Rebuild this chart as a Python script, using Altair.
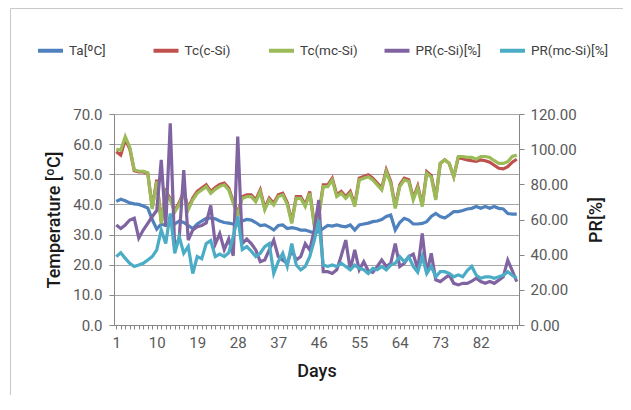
import altair as alt
import pandas as pd

days = list(range(1, 91))

ta = [41.0, 41.7, 41.2, 40.5, 40.2, 40.0, 39.5, 38.8, 35.0, 31.8,
      33.5, 33.0, 34.0, 33.5, 34.5, 34.0, 33.0, 32.0, 33.5, 34.5,
      35.4, 35.5, 35.2, 34.5, 34.0, 33.8, 33.5, 33.2, 34.5, 35.0,
      34.8, 34.0, 33.0, 33.2, 32.5, 31.5, 33.0, 33.2, 32.0, 32.3,
      32.0, 31.5, 31.5, 31.0, 30.5, 31.0, 32.0, 33.0, 32.8, 33.2,
      32.8, 32.6, 33.2, 31.5, 33.2, 33.5, 33.8, 34.3, 34.5, 35.0,
      36.0, 36.5, 31.5, 34.0, 35.4, 34.8, 33.5, 33.5, 33.7, 34.3,
      36.0, 37.0, 36.0, 35.5, 36.5, 37.6, 37.6, 38.0, 38.5, 38.7,
      39.3, 38.7, 39.3, 38.7, 39.3, 38.7, 38.5, 37.0, 36.8, 36.8]

tc_csi = [57.5, 56.4, 61.5, 58.5, 51.2, 50.8, 50.8, 50.3, 39.0, 48.2,
          34.2, 44.3, 42.0, 38.0, 40.6, 44.3, 38.8, 42.1, 44.3, 45.4,
          46.5, 44.3, 45.6, 46.6, 47.1, 45.4, 41.0, 37.1, 42.6, 43.2,
          43.2, 41.5, 44.8, 38.8, 42.1, 40.4, 43.2, 43.7, 40.6, 34.3,
          42.6, 42.6, 39.9, 44.3, 33.6, 36.6, 46.5, 46.5, 48.7, 43.2,
          44.3, 42.6, 44.3, 39.9, 48.7, 49.3, 49.8, 48.7, 47.1, 45.4,
          51.5, 47.6, 39.3, 46.5, 48.7, 48.2, 42.1, 46.1, 39.9, 50.9,
          49.6, 42.1, 53.6, 54.8, 53.6, 49.2, 55.5, 55.2, 54.8, 54.5,
          54.3, 54.8, 54.5, 54.0, 53.0, 52.0, 51.8, 52.5, 54.0, 55.0]

tc_mcsi = [58.3, 58.0, 62.5, 59.0, 51.5, 51.0, 51.0, 50.5, 38.5, 47.6,
           33.7, 43.7, 41.5, 37.5, 40.0, 43.7, 38.2, 41.5, 43.7, 44.8,
           45.9, 43.7, 45.0, 46.0, 46.5, 44.8, 40.4, 36.5, 42.0, 42.6,
           42.6, 40.9, 44.2, 38.2, 41.5, 39.8, 42.6, 43.1, 40.0, 33.7,
           42.0, 42.0, 39.3, 43.7, 33.0, 36.0, 45.9, 45.9, 48.1, 42.6,
           43.7, 42.0, 43.7, 39.3, 48.1, 48.7, 49.2, 48.1, 46.5, 44.8,
           50.9, 47.0, 38.7, 45.9, 48.1, 47.6, 41.5, 45.5, 39.3, 50.3,
           49.0, 41.5, 53.6, 54.8, 53.6, 49.2, 55.9, 55.9, 55.6, 55.6,
           55.0, 55.9, 55.9, 55.6, 54.5, 53.6, 53.6, 54.2, 55.9, 56.4]

pr_csi = [56.9, 54.9, 56.9, 59.7, 60.7, 49.4, 54.0, 57.8, 61.7, 65.1,
          93.9, 55.9, 114.7, 42.7, 49.7, 88.1, 48.3, 54.0, 55.9, 56.6,
          58.0, 68.0, 46.0, 52.0, 42.9, 49.0, 39.4, 107.1, 46.3, 48.9,
          46.3, 42.7, 36.0, 37.0, 42.7, 48.3, 38.9, 36.9, 35.1, 42.7,
          37.0, 38.9, 46.3, 42.7, 54.0, 71.1, 30.3, 30.3, 29.3, 31.4,
          39.4, 48.3, 31.4, 42.7, 31.4, 36.0, 30.9, 30.0, 33.3, 37.0,
          33.3, 35.1, 46.3, 33.3, 35.1, 38.9, 40.3, 31.7, 52.1, 29.3,
          40.8, 25.7, 24.7, 26.6, 28.5, 23.7, 22.8, 23.7, 23.7, 24.9,
          26.6, 24.7, 23.7, 24.7, 23.7, 25.5, 27.4, 36.9, 30.9, 24.7]

pr_mcsi = [38.9, 41.1, 37.9, 35.1, 33.3, 34.1, 35.1, 37.0, 38.9, 42.7,
           54.0, 46.3, 63.4, 40.8, 50.2, 40.8, 44.6, 29.3, 38.9, 37.7,
           46.3, 48.0, 38.9, 40.3, 38.9, 41.1, 50.2, 61.7, 42.9, 44.6,
           42.0, 38.9, 40.8, 44.6, 46.3, 29.3, 36.0, 40.8, 33.3, 46.3,
           34.1, 31.4, 33.3, 38.9, 48.0, 59.7, 34.1, 33.3, 34.1, 33.3,
           35.1, 33.3, 31.4, 34.1, 32.2, 31.4, 29.3, 32.2, 31.4, 33.3,
           31.4, 34.1, 35.1, 38.9, 36.0, 38.9, 33.3, 30.0, 38.9, 29.3,
           33.3, 27.4, 30.3, 30.3, 29.3, 27.4, 28.5, 27.4, 30.9, 33.3,
           28.3, 26.6, 27.4, 27.4, 26.6, 27.4, 28.3, 30.3, 28.3, 26.6]

series_names = ["Ta[ºC]", "Tc(c-Si)", "Tc(mc-Si)", "PR(c-Si)[%]", "PR(mc-Si)[%]"]
series_colors = ["#4F81BD", "#C0504D", "#9BBB59", "#8064A2", "#4BACC6"]
temp_ticks = [0, 10, 20, 30, 40, 50, 60, 70]
pr_ticks = [0, 20, 40, 60, 80, 100, 120]
day_label_every = 9

color_scale = alt.Scale(domain=series_names, range=series_colors)
legend = alt.Legend(orient="none", legendX=-78, legendY=-78, direction="horizontal",
                    columns=5, gridAlign="all", columnPadding=-1.5, title=None,
                    symbolType="stroke", symbolSize=625, symbolStrokeWidth=4,
                    labelFontSize=13.5, labelFont="Roboto", labelColor="#404040",
                    labelOffset=4)

x_enc = alt.X("day:Q", scale=alt.Scale(domain=[0.5, 90.5], nice=False, zero=False),
              axis=alt.Axis(values=days, format="d", grid=False, tickSize=4,
                            labelExpr=f"(datum.value - 1) % {day_label_every} == 0 ? datum.label : ''",
                            labelOverlap=False, labelPadding=6, labelFontSize=15,
                            titlePadding=12, titleFontSize=18,
                            titleFontWeight=500),
              title="Days")

temp_axis = alt.Axis(values=temp_ticks, format=".1f", grid=True, tickSize=5,
                     labelPadding=7, labelFontSize=15,
                     titlePadding=9, titleFontSize=18, titleFontWeight=500)
pr_axis = alt.Axis(orient="right", values=pr_ticks, format=".2f", grid=False,
                   tickSize=5, labelPadding=6, labelFontSize=15,
                   titlePadding=11, titleFontSize=18, titleFontWeight=500,
                   titleAngle=270, titleBaseline="top")


def line(values, name, scale_dom, axis, title):
    data = pd.DataFrame({"day": days, "value": values, "series": name})
    return alt.Chart(data).mark_line(strokeWidth=3.2).encode(
        x=x_enc,
        y=alt.Y("value:Q", scale=alt.Scale(domain=scale_dom, nice=False), axis=axis, title=title),
        color=alt.Color("series:N", scale=color_scale, legend=legend),
    )


temp = alt.layer(
    line(ta, series_names[0], [0, 70], temp_axis, "Temperature [ºC]"),
    line(tc_csi, series_names[1], [0, 70], temp_axis, "Temperature [ºC]"),
    line(tc_mcsi, series_names[2], [0, 70], temp_axis, "Temperature [ºC]"),
)
pr = alt.layer(
    line(pr_csi, series_names[3], [0, 120], pr_axis, "PR[%]"),
    line(pr_mcsi, series_names[4], [0, 120], pr_axis, "PR[%]"),
)

frame_df = pd.DataFrame({"k": [0]})
frame_left = alt.Chart(frame_df).mark_rule(color="#C8C8C8", strokeWidth=1).encode(
    x=alt.value(-103.5), y=alt.value(-105.5), y2=alt.value(300))
frame_top = alt.Chart(frame_df).mark_rule(color="#C8C8C8", strokeWidth=1).encode(
    x=alt.value(-103.5), x2=alt.value(520), y=alt.value(-105.5))

chart = alt.layer(temp, pr, frame_left, frame_top).resolve_scale(y="independent").properties(
    width=405, height=211,
    autosize=alt.AutoSizeParams(type="none"),
    padding={"left": 106, "top": 106, "right": 104, "bottom": 70},
).configure_view(stroke=None).configure_axis(
    labelFont="Roboto", titleFont="Roboto", labelColor="#595959", titleColor="#1A1A1A",
    domainColor="#868686", tickColor="#868686", gridColor="#A6A6A6", gridWidth=1,
).configure_legend(labelFont="Roboto")

chart.save("out.html", embed_options={"renderer": "svg", "actions": False})
